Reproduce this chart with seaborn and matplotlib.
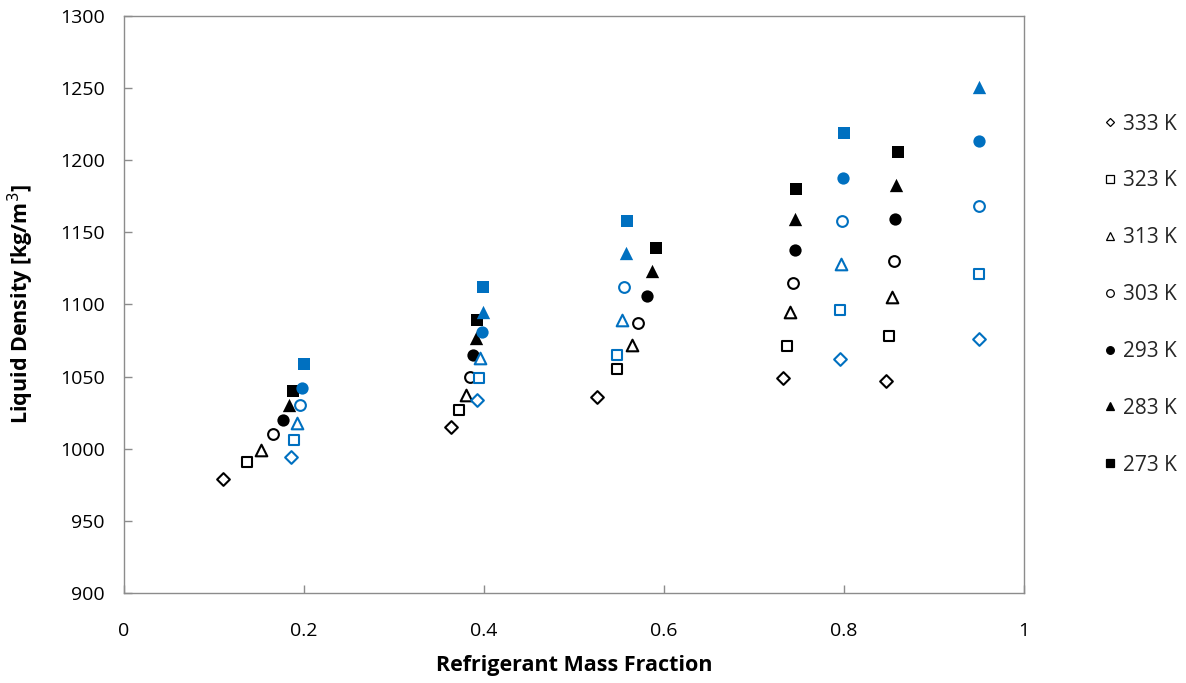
import matplotlib
matplotlib.use("Agg")
import matplotlib.pyplot as plt
from matplotlib.lines import Line2D
import seaborn as sns
import pandas as pd

# Temperatures and their marker styles
temperatures = ["333 K", "323 K", "313 K", "303 K", "293 K", "283 K", "273 K"]
markers = ["D", "s", "^", "o", "o", "^", "s"]
filled = [False, False, False, False, True, True, True]

# Black data set: refrigerant mass fraction / liquid density [kg/m3]
black_x = {
    "333 K": [0.110, 0.363, 0.526, 0.732, 0.847],
    "323 K": [0.137, 0.372, 0.548, 0.737, 0.850],
    "313 K": [0.152, 0.380, 0.564, 0.740, 0.853],
    "303 K": [0.166, 0.384, 0.571, 0.743, 0.855],
    "293 K": [0.177, 0.388, 0.581, 0.745, 0.857],
    "283 K": [0.183, 0.391, 0.587, 0.746, 0.858],
    "273 K": [0.188, 0.392, 0.591, 0.747, 0.860],
}
black_y = {
    "333 K": [979, 1015, 1036, 1049, 1047],
    "323 K": [991, 1027, 1055, 1071, 1078],
    "313 K": [999, 1037, 1072, 1095, 1105],
    "303 K": [1010, 1050, 1087, 1115, 1130],
    "293 K": [1020, 1065, 1106, 1138, 1159],
    "283 K": [1030, 1077, 1123, 1159, 1183],
    "273 K": [1040, 1089, 1139, 1180, 1206],
}

# Blue data set
blue_x = {
    "333 K": [0.186, 0.392, 0.795, 0.950],
    "323 K": [0.189, 0.394, 0.548, 0.796, 0.950],
    "313 K": [0.192, 0.396, 0.553, 0.797],
    "303 K": [0.196, 0.556, 0.798, 0.950],
    "293 K": [0.198, 0.398, 0.799, 0.950],
    "283 K": [0.399, 0.558, 0.950],
    "273 K": [0.200, 0.399, 0.559, 0.800],
}
blue_y = {
    "333 K": [994, 1034, 1062, 1076],
    "323 K": [1006, 1049, 1065, 1096, 1121],
    "313 K": [1018, 1063, 1089, 1128],
    "303 K": [1030, 1112, 1158, 1168],
    "293 K": [1042, 1081, 1188, 1213],
    "283 K": [1095, 1136, 1251],
    "273 K": [1059, 1112, 1158, 1219],
}

x_ticks = [0, 0.2, 0.4, 0.6, 0.8, 1]
x_tick_labels = ["0", "0.2", "0.4", "0.6", "0.8", "1"]
y_ticks = [900, 950, 1000, 1050, 1100, 1150, 1200, 1250, 1300]

BLACK = "#000000"
BLUE = "#0070C0"
GRID = "#8c8c8c"

sns.set_theme(style="white")
plt.rcParams["font.family"] = ["Open Sans", "DejaVu Sans"]

fig = plt.figure(figsize=(11.86, 6.83), dpi=100)
ax = fig.add_axes([0.1046, 0.1318, 0.7588, 0.8448])

# marker areas: filled markers are drawn without an edge, open ones with one
filled_sizes = {"s": 74, "^": 92, "o": 78}
open_sizes = {"D": 42, "s": 58, "^": 70, "o": 60}

for color, xs, ys in [(BLACK, black_x, black_y), (BLUE, blue_x, blue_y)]:
    for t, m, f in zip(temperatures, markers, filled):
        df = pd.DataFrame({"x": xs[t], "y": ys[t]})
        sns.scatterplot(
            data=df, x="x", y="y", ax=ax, marker=m,
            s=filled_sizes[m] if f else open_sizes[m],
            facecolor=color if f else "white", edgecolor=color,
            linewidth=0 if f else 1.5, zorder=3,
        )

ax.set_xlim(0, 1)
ax.set_ylim(900, 1300)
ax.set_xticks(x_ticks)
ax.set_xticklabels(x_tick_labels)
ax.set_yticks(y_ticks)

for s in ax.spines.values():
    s.set_color(GRID)
    s.set_linewidth(1.0)
    s.set_visible(True)

ax.tick_params(axis="both", direction="in", length=6, width=1.0, color=GRID,
               labelsize=14, labelcolor="#000000")
ax.tick_params(axis="x", pad=21, top=False, bottom=True)
ax.tick_params(axis="y", pad=14, left=True, right=False)

ax.set_xlabel("Refrigerant Mass Fraction", fontsize=15.5, fontweight="bold",
              labelpad=11, color="#000000")
ax.set_ylabel("Liquid Density [kg/m$^3$]", fontsize=15.5, fontweight="bold",
              labelpad=17, color="#000000")

handles = []
for t, m, f in zip(temperatures, markers, filled):
    handles.append(Line2D([], [], linestyle="none", marker=m,
                          markersize=5.5 if m != "D" else 4.5,
                          markerfacecolor=BLACK if f else "white",
                          markeredgecolor=BLACK, markeredgewidth=0.9))
leg = fig.legend(handles, temperatures, loc="upper left",
                 bbox_to_anchor=(0.921, 0.849), frameon=False,
                 fontsize=15, labelspacing=1.72, handlelength=0.7,
                 handletextpad=0.25, borderpad=0)

fig.savefig("out.png", dpi=100)
